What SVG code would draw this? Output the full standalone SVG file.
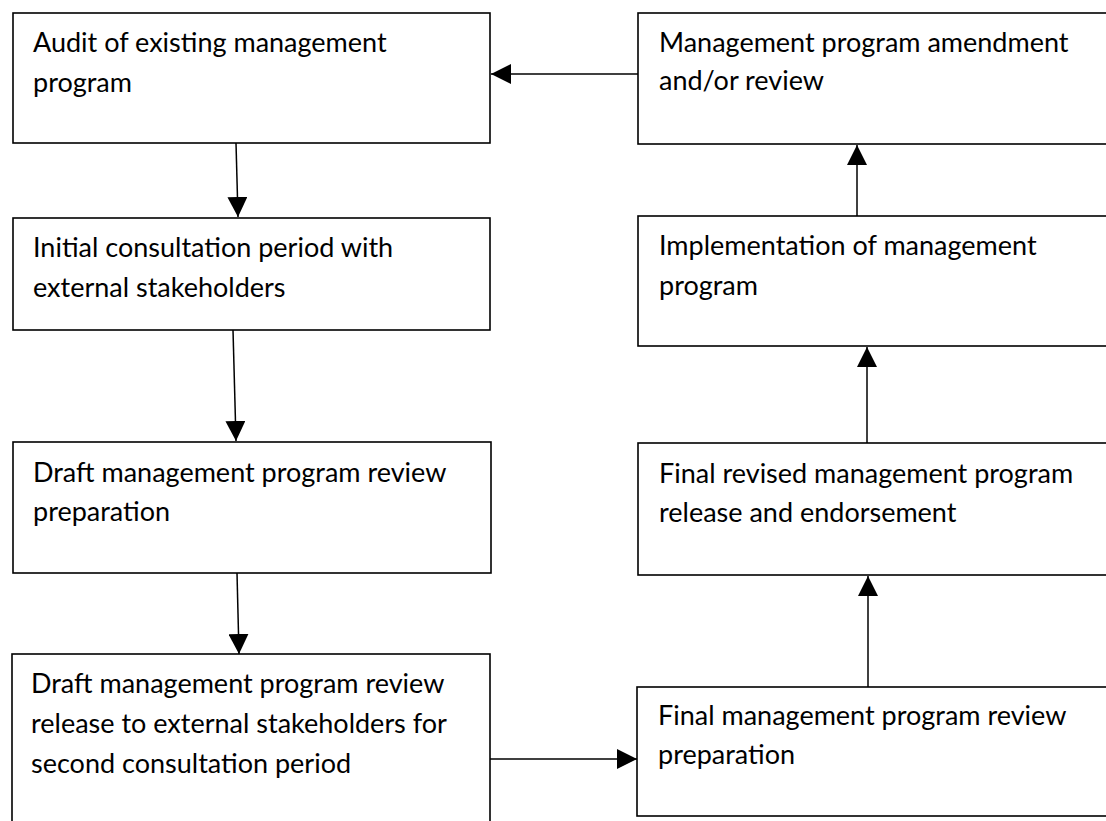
<svg xmlns="http://www.w3.org/2000/svg" width="1106" height="821" viewBox="0 0 1106 821">
<style>
.box{fill:#fff;stroke:#000;stroke-width:1.6}
.t{font-family:Lato,"Open Sans","Liberation Sans",sans-serif;font-size:27px;fill:#000}
.c{stroke:#000;stroke-width:1.5;fill:none;marker-end:url(#ah)}
</style>
<defs>
<marker id="ah" markerUnits="userSpaceOnUse" markerWidth="20" markerHeight="20" refX="20" refY="10" orient="auto" viewBox="0 0 20 20">
<path d="M0,0 L20,10 L0,20 z" fill="#000"/>
</marker>
</defs>
<rect width="1106" height="821" fill="#fff"/>
<g id="n1"><rect class="box" x="13" y="13" width="477" height="130"/>
<text class="t" x="33" y="52">Audit of existing management</text>
<text class="t" x="33" y="92">program</text></g>
<g id="n2"><rect class="box" x="13" y="218" width="477" height="112"/>
<text class="t" x="33" y="257">Initial consultation period with</text>
<text class="t" x="33" y="297">external stakeholders</text></g>
<g id="n3"><rect class="box" x="13" y="442" width="478" height="131"/>
<text class="t" x="33" y="482">Draft management program review</text>
<text class="t" x="33" y="521">preparation</text></g>
<g id="n4"><rect class="box" x="12" y="654" width="478" height="180"/>
<text class="t" x="31" y="693">Draft management program review</text>
<text class="t" x="31" y="733">release to external stakeholders for</text>
<text class="t" x="31" y="773">second consultation period</text></g>
<g id="n5"><rect class="box" x="637" y="687" width="490" height="129"/>
<text class="t" x="658" y="725">Final management program review</text>
<text class="t" x="658" y="764">preparation</text></g>
<g id="n6"><rect class="box" x="638" y="443" width="490" height="132"/>
<text class="t" x="659" y="483">Final revised management program</text>
<text class="t" x="659" y="522">release and endorsement</text></g>
<g id="n7"><rect class="box" x="638" y="216" width="490" height="130"/>
<text class="t" x="659" y="255">Implementation of management</text>
<text class="t" x="659" y="295">program</text></g>
<g id="n8"><rect class="box" x="638" y="13" width="490" height="131"/>
<text class="t" x="659" y="52">Management program amendment</text>
<text class="t" x="659" y="90">and/or review</text></g>
<g id="connectors">
<line class="c" x1="236" y1="143" x2="238" y2="217"/>
<line class="c" x1="233" y1="330" x2="236" y2="441"/>
<line class="c" x1="237" y1="573" x2="239" y2="654"/>
<line class="c" x1="490" y1="759" x2="637" y2="759"/>
<line class="c" x1="868" y1="687" x2="868" y2="576"/>
<line class="c" x1="867" y1="443" x2="867" y2="347"/>
<line class="c" x1="857" y1="216" x2="857" y2="145"/>
<line class="c" x1="638" y1="74" x2="491" y2="74"/>
</g>
</svg>
